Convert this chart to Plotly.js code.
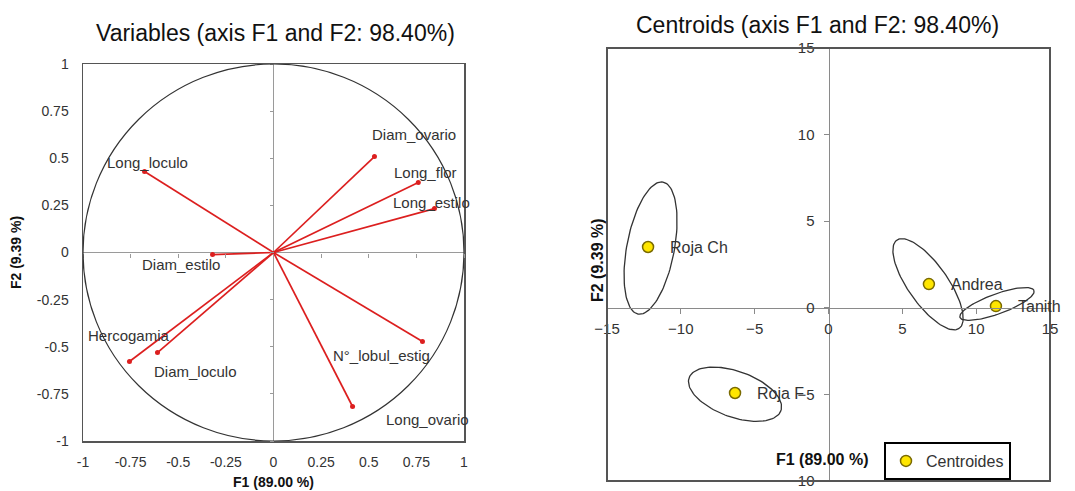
<!DOCTYPE html>
<html>
<head>
<meta charset="utf-8">
<script src="https://cdn.plot.ly/plotly-3.0.1.min.js"></script>
<style>html,body{margin:0;padding:0;background:#fff;}#chart{width:1075px;height:491px;}</style>
</head>
<body>
<div id="chart"></div>
<script>
// ---- Data: correlation circle (variables) ----
const varNames = ['Diam_ovario','Long_flor','Long_estilo','Long_loculo','Diam_estilo','Hercogamia','Diam_loculo','N°_lobul_estig','Long_ovario'];
const varF1 = [0.53, 0.76, 0.845, -0.677, -0.32, -0.756, -0.609, 0.782, 0.415];
const varF2 = [0.509, 0.371, 0.233, 0.43, -0.011, -0.578, -0.531, -0.472, -0.817];

// ---- Data: centroids ----
const groups = ['Roja Ch', 'Andrea', 'Tanith', 'Roja F'];
const cenF1 = [-12.22, 6.80, 11.34, -6.33];
const cenF2 = [3.51, 1.37, 0.10, -4.92];

// ---- Data: confidence ellipses (centre, semi-axis vectors) ----
const ellCx = [-12.05, 6.74, 11.41, -6.33];
const ellCy = [3.45, 1.36, 0.22, -4.99];
const ellAx = [0.846, 2.11, 2.505, 3.11];
const ellAy = [3.81, -2.55, 0.779, -0.947];
const ellBx = [1.584, 1.10, 0.232, -0.52];
const ellBy = [-0.256, 0.66, -0.542, -1.25];

// ---- Tick values ----
const circTicks = [-1, -0.75, -0.5, -0.25, 0, 0.25, 0.5, 0.75, 1];
const circTickText = ['-1', '-0.75', '-0.5', '-0.25', '0', '0.25', '0.5', '0.75', '1'];
const cenXTicks = [-15, -10, -5, 0, 5, 10, 15];
const cenYTicks = [-10, -5, 0, 5, 10, 15];

// label offsets (style, pixels)
const labelShiftX = [40, 7, -3, 3, -32, 0, 38, -41, 75];
const labelShiftY = [22, 10, 6, 9, -10, 26, -19, -14, -13];

const FONT = 'Liberation Sans, Arial, sans-serif';
const RED = '#dc1f1f';
const TXT = '#333333';

const traces = [];

// vectors
const vx = [], vy = [];
varF1.forEach((v, i) => { vx.push(0, v, null); vy.push(0, varF2[i], null); });
traces.push({x: vx, y: vy, xaxis: 'x', yaxis: 'y', mode: 'lines', line: {color: RED, width: 1.7}, showlegend: false, hoverinfo: 'skip'});
traces.push({x: varF1, y: varF2, text: varNames, xaxis: 'x', yaxis: 'y', mode: 'markers', marker: {color: RED, size: 5}, showlegend: false});

// ellipses
const NPT = 120;
for (let k = 0; k < ellCx.length; k++) {
  const ex = [], ey = [];
  for (let j = 0; j <= NPT; j++) {
    const t = 2 * Math.PI * j / NPT;
    ex.push(ellCx[k] + ellAx[k] * Math.cos(t) + ellBx[k] * Math.sin(t));
    ey.push(ellCy[k] + ellAy[k] * Math.cos(t) + ellBy[k] * Math.sin(t));
  }
  traces.push({x: ex, y: ey, xaxis: 'x2', yaxis: 'y2', mode: 'lines', line: {color: '#333', width: 1.3}, showlegend: false, hoverinfo: 'skip'});
}

// centroids
traces.push({x: cenF1, y: cenF2, text: groups, name: 'Centroides', xaxis: 'x2', yaxis: 'y2', mode: 'markers',
  marker: {color: '#ffe600', size: 11, line: {color: '#7a6a00', width: 1.5}}, showlegend: true});

// dummy traces to activate overlay tick axes
traces.push({x: [0], y: [0], xaxis: 'x3', yaxis: 'y', mode: 'markers', marker: {opacity: 0}, showlegend: false, hoverinfo: 'skip'});
traces.push({x: [0], y: [0], xaxis: 'x', yaxis: 'y3', mode: 'markers', marker: {opacity: 0}, showlegend: false, hoverinfo: 'skip'});

const annotations = [];
varNames.forEach((n, i) => {
  annotations.push({x: varF1[i], y: varF2[i], xref: 'x', yref: 'y', text: n, showarrow: false,
    xshift: labelShiftX[i], yshift: labelShiftY[i], xanchor: 'center', yanchor: 'middle',
    font: {family: FONT, size: 15, color: TXT}});
});
groups.forEach((g, i) => {
  annotations.push({x: cenF1[i], y: cenF2[i], xref: 'x2', yref: 'y2', text: g, showarrow: false,
    xshift: 20, xanchor: 'left', yanchor: 'middle', font: {family: FONT, size: 16, color: TXT}});
});
annotations.push({x: 275/1075, y: 1 - 33/491, xref: 'paper', yref: 'paper', text: 'Variables (axis F1 and F2: 98.40%)', showarrow: false,
  xanchor: 'center', yanchor: 'middle', font: {family: FONT, size: 23, color: '#111'}});
annotations.push({x: 817/1075, y: 1 - 25/491, xref: 'paper', yref: 'paper', text: 'Centroids (axis F1 and F2: 98.40%)', showarrow: false,
  xanchor: 'center', yanchor: 'middle', font: {family: FONT, size: 23, color: '#111'}});
annotations.push({x: 822/1075, y: 1 - 459/491, xref: 'paper', yref: 'paper', text: '<b>F1 (89.00 %)</b>', showarrow: false,
  xanchor: 'center', yanchor: 'middle', font: {family: FONT, size: 16, color: '#111'}});
annotations.push({x: 597/1075, y: 1 - 260/491, xref: 'paper', yref: 'paper', text: '<b>F2 (9.39 %)</b>', showarrow: false, textangle: -90,
  xanchor: 'center', yanchor: 'middle', font: {family: FONT, size: 16, color: '#111'}});

const layout = {
  width: 1075, height: 491,
  margin: {l: 0, r: 0, t: 0, b: 0},
  paper_bgcolor: '#fff', plot_bgcolor: 'rgba(0,0,0,0)',
  font: {family: FONT, color: TXT},
  showlegend: true,
  legend: {x: 884/1075, y: 1 - 442/491, xanchor: 'left', yanchor: 'top', bgcolor: '#fff', bordercolor: '#000', borderwidth: 2,
    itemwidth: 30, font: {family: FONT, size: 16, color: TXT}},
  xaxis: {domain: [83/1075, 464/1075], range: [-1, 1], anchor: 'y', tickvals: circTicks, ticktext: circTickText,
    showgrid: false, zeroline: true, zerolinecolor: '#9a9a9a', zerolinewidth: 1, showline: true, mirror: true, linecolor: '#555', linewidth: 1.5,
    ticks: '', ticklabelstandoff: 8, tickfont: {family: FONT, size: 14, color: TXT}, fixedrange: true, automargin: false,
    title: {text: '<b>F1 (89.00 %)</b>', standoff: 8, font: {family: FONT, size: 14, color: '#111'}}},
  yaxis: {domain: [1 - 441/491, 1 - 64/491], range: [-1, 1], anchor: 'x', tickvals: circTicks, ticktext: circTickText,
    showgrid: false, zeroline: true, zerolinecolor: '#9a9a9a', zerolinewidth: 1, showline: true, mirror: true, linecolor: '#555', linewidth: 1.5,
    ticks: '', ticklabelstandoff: 10, tickfont: {family: FONT, size: 14, color: TXT}, fixedrange: true, automargin: false,
    title: {text: '<b>F2 (9.39 %)</b>', standoff: 12, font: {family: FONT, size: 14, color: '#111'}}},
  xaxis3: {overlaying: 'x', anchor: 'free', position: 0.10183 + 0.5 * (0.86965 - 0.10183), range: [-1, 1], tickvals: circTicks,
    showticklabels: false, ticks: 'outside', ticklen: 4, tickcolor: '#9a9a9a', showline: false, showgrid: false, zeroline: false, fixedrange: true},
  yaxis3: {overlaying: 'y', anchor: 'free', position: 83/1075 + 0.5 * (381/1075), range: [-1, 1], tickvals: circTicks,
    showticklabels: false, ticks: 'outside', ticklen: 4, tickcolor: '#9a9a9a', showline: false, showgrid: false, zeroline: false, fixedrange: true},
  xaxis2: {domain: [607/1075, 1050/1075], range: [-15, 15], anchor: 'free', position: (1 - 481/491) + 0.4 * ((481 - 48)/491),
    tickvals: cenXTicks, showgrid: false, zeroline: false, showline: true, linecolor: '#8a8a8a', linewidth: 1.2,
    ticks: 'outside', ticklen: 5, tickcolor: '#8a8a8a', ticklabelstandoff: 2, tickfont: {family: FONT, size: 15, color: TXT}, fixedrange: true, automargin: false},
  yaxis2: {domain: [1 - 481/491, 1 - 48/491], range: [-10, 15], anchor: 'free', position: 607/1075 + 0.5 * (443/1075),
    tickvals: cenYTicks, showgrid: false, zeroline: false, showline: true, linecolor: '#8a8a8a', linewidth: 1.2,
    ticks: 'outside', ticklen: 5, tickcolor: '#8a8a8a', ticklabelstandoff: 6, tickfont: {family: FONT, size: 15, color: TXT}, fixedrange: true, automargin: false},
  shapes: [
    {type: 'circle', xref: 'x', yref: 'y', x0: -1, x1: 1, y0: -1, y1: 1, line: {color: '#333', width: 1.2}, layer: 'above'},
    {type: 'rect', xref: 'x2 domain', yref: 'y2 domain', x0: 0, x1: 1, y0: 0, y1: 1, line: {color: '#555', width: 2}, layer: 'above'}
  ],
  annotations: annotations
};

Plotly.newPlot('chart', traces, layout, {staticPlot: true, displayModeBar: false});
</script>
</body>
</html>
